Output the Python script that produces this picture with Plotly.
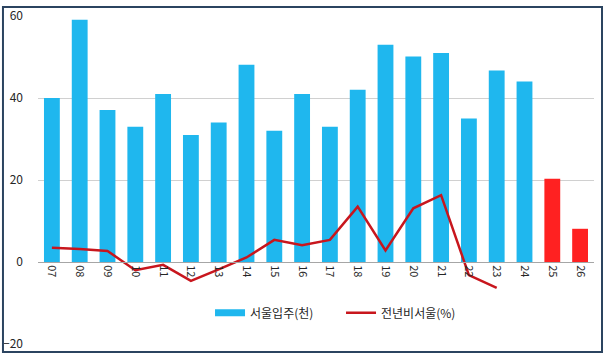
import plotly.graph_objects as go

years = ["07", "08", "09", "10", "11", "12", "13", "14", "15", "16",
         "17", "18", "19", "20", "21", "22", "23", "24", "25", "26"]
supply = [40.0, 59.1, 37.1, 33.0, 41.0, 31.0, 34.0, 48.1, 32.0, 41.0,
          33.0, 42.0, 53.0, 50.1, 51.0, 35.0, 46.7, 44.0, 20.3, 8.1]
forecast = [False] * 18 + [True, True]
yoy_years = years[:17]
yoy = [3.5, 3.2, 2.7, -2.0, -0.7, -4.6, -1.8, 1.1, 5.4, 4.1,
       5.4, 13.5, 2.8, 13.1, 16.3, -3.2, -6.3]

BLUE = "#1FB7EE"
RED_BAR = "#FF2121"
RED_LINE = "#C8161D"

fig = go.Figure()
fig.add_trace(go.Bar(
    x=years, y=supply,
    marker=dict(color=[RED_BAR if f else BLUE for f in forecast], line=dict(width=0)),
    showlegend=False, width=0.57,
))
fig.add_trace(go.Scatter(
    x=yoy_years, y=yoy, mode="lines",
    line=dict(color=RED_LINE, width=2.5),
    showlegend=False,
))
# legend entries
fig.add_trace(go.Scatter(x=[None], y=[None], mode="lines",
                         line=dict(color=BLUE, width=7), name="서울입주(천)"))
fig.add_trace(go.Scatter(x=[None], y=[None], mode="lines",
                         line=dict(color=RED_LINE, width=2.5), name="전년비서울(%)"))

fig.update_layout(
    width=608, height=357,
    margin=dict(l=38, r=14, t=16, b=13, autoexpand=False),
    paper_bgcolor="white", plot_bgcolor="white",
    font=dict(family="Noto Sans CJK KR, Noto Sans, sans-serif", size=11, color="#262626"),
    showlegend=True,
    legend=dict(orientation="h", x=0.545, xanchor="center", y=0.095, yanchor="middle",
                bgcolor="rgba(0,0,0,0)", font=dict(size=12, color="#262626"),
                itemwidth=30, tracegroupgap=0, entrywidth=86),
    bargap=0.43,
    xaxis=dict(
        type="category", anchor="free", position=0.25, automargin=False,
        tickangle=90, showgrid=False, showline=True, linecolor="#A6A6A6", linewidth=1,
        ticks="", tickfont=dict(size=11, color="#262626"),
        range=[-0.5, 19.5],
    ),
    yaxis=dict(
        range=[-20, 60], tickvals=[-20, 0, 20, 40, 60], automargin=False,
        showgrid=True, gridcolor="#D0D0D0", gridwidth=1,
        zeroline=True, zerolinecolor="#A6A6A6", zerolinewidth=1,
        showline=False, ticks="", ticklabelstandoff=14,
        tickfont=dict(size=12, color="#262626"),
    ),
    shapes=[dict(type="rect", xref="paper", yref="paper",
                 x0=-0.063, x1=1.0144, y0=-0.0244, y1=1.0274,
                 line=dict(color="#2B4460", width=2), fillcolor="rgba(0,0,0,0)",
                 layer="above")],
)

fig.write_html("out.html", config={"displayModeBar": False},
               post_script="document.body.style.margin='0';")
